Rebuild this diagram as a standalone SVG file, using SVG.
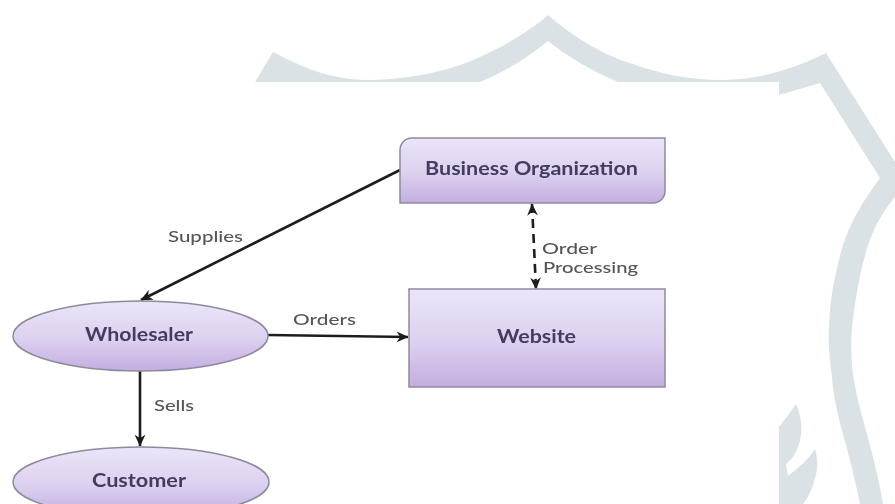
<svg xmlns="http://www.w3.org/2000/svg" width="895" height="504" viewBox="0 0 895 504">
<style>
.node{fill:url(#g);stroke:#8d8a9c;stroke-width:1.5;filter:url(#soft)}
.nt{font-family:"Lato","Liberation Sans",sans-serif;font-size:18px;font-weight:700;fill:#453b5e;filter:url(#tb)}
.lb{font-family:"Lato","Liberation Sans",sans-serif;font-size:15.5px;font-weight:500;fill:#55555a;filter:url(#tb)}
.c{fill:none;stroke:#1c1c1c;stroke-width:2.6}
</style>
<defs>
<linearGradient id="g" x1="0" y1="0" x2="0" y2="1"><stop offset="0" stop-color="#ece5f8"/><stop offset=".55" stop-color="#dcd0ef"/><stop offset="1" stop-color="#c2aee0"/></linearGradient>
<filter id="soft" x="-5%" y="-5%" width="110%" height="115%"><feGaussianBlur stdDeviation="0.5"/></filter>
<filter id="tb" x="-5%" y="-20%" width="110%" height="140%"><feGaussianBlur stdDeviation="0.35"/></filter>
<marker id="a" viewBox="0 0 10 10" refX="9.5" refY="5" markerWidth="12" markerHeight="12" markerUnits="userSpaceOnUse" orient="auto-start-reverse"><path d="M0 .5L10 5L0 9.5L3 5Z" fill="#1c1c1c"/></marker>
</defs>
<rect width="895" height="504" fill="#fff"/>
<g id="background">
<path fill="#dbe2e6" d="M255 82L273 52C300 66 330 80 367 80C400 80 440 74 473 60C500 48 525 35 548 15C570 34 600 54 630 63C660 74 690 80 723 80C760 80 795 68 826 53L895 162V197C875 222 862 245 852 327C851 345 851 360 853 374C857 400 862 415 867 434C874 460 879 480 883 504H860C855 480 849 455 842 431C837 410 833 395 832 377C829 355 828 340 829 327C830 300 833 285 838 264C845 230 860 205 880 178L820 83L779 95V82H618C590 70 570 58 548 41C530 56 505 72 480 82Z"/>
<rect x="0" y="82" width="779" height="422" fill="#fff"/>
<path fill="#dbe2e6" d="M779 427C786 418 792 410 796 404C801 415 802 425 801 435C799 448 794 458 786 464L788 476C798 468 808 460 815 449C818 458 818 470 815 478C812 490 808 498 803 504H779Z"/>
</g>
<g id="connectors">
<path class="c" d="M400 170L141 300" marker-end="url(#a)"/>
<path class="c" d="M268 335L408 337" marker-end="url(#a)"/>
<path class="c" d="M140 371V446" marker-end="url(#a)"/>
<path class="c" d="M532 204L536 289" stroke-dasharray="9 6" marker-start="url(#a)" marker-end="url(#a)"/>
<text class="lb" x="168" y="242" textLength="75" lengthAdjust="spacingAndGlyphs">Supplies</text>
<text class="lb" x="293" y="325" textLength="63" lengthAdjust="spacingAndGlyphs">Orders</text>
<text class="lb" x="154" y="411" textLength="40" lengthAdjust="spacingAndGlyphs">Sells</text>
<text class="lb" x="542" y="254" textLength="55" lengthAdjust="spacingAndGlyphs">Order</text>
<text class="lb" x="543" y="273" textLength="95" lengthAdjust="spacingAndGlyphs">Processing</text>
</g>
<g id="business-organization">
<path class="node" d="M412 138H665V191A12 12 0 0 1 653 203H400V150A12 12 0 0 1 412 138Z"/>
<text class="nt" x="425" y="175" textLength="213" lengthAdjust="spacingAndGlyphs">Business Organization</text>
</g>
<g id="website">
<rect class="node" x="409" y="289" width="256" height="98"/>
<text class="nt" x="497" y="343" textLength="79" lengthAdjust="spacingAndGlyphs">Website</text>
</g>
<g id="wholesaler">
<ellipse class="node" cx="140.5" cy="336" rx="127.5" ry="35"/>
<text class="nt" x="85" y="341" textLength="108" lengthAdjust="spacingAndGlyphs">Wholesaler</text>
</g>
<g id="customer">
<ellipse class="node" cx="141" cy="482" rx="128" ry="35"/>
<text class="nt" x="92" y="487" textLength="94" lengthAdjust="spacingAndGlyphs">Customer</text>
</g>
</svg>
